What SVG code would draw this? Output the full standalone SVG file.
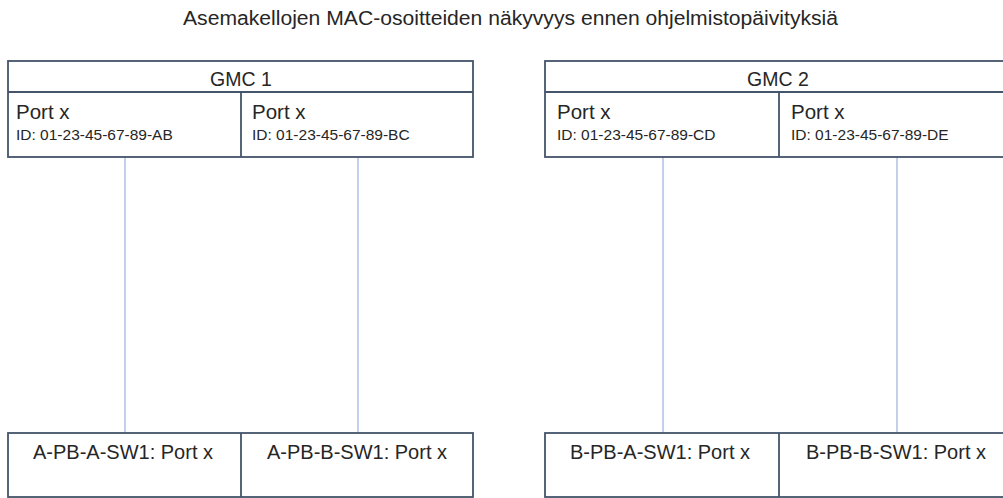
<svg xmlns="http://www.w3.org/2000/svg" width="1003" height="498" viewBox="0 0 1003 498">
  <style>
    text { font-family: "Liberation Sans", Arial, sans-serif; fill: #262626; }
    .box { fill: #ffffff; stroke: #44546a; stroke-width: 1.8; }
    .div { stroke: #44546a; stroke-width: 1.8; }
    .title { font-size: 20px; }
    .head { font-size: 19.5px; text-anchor: middle; }
    .port { font-size: 20.5px; }
    .id { font-size: 15.5px; }
    .sw { font-size: 20px; text-anchor: middle; }
    .link { stroke: #a4b6e0; stroke-width: 1.3; }
  </style>
  <rect width="1003" height="498" fill="#ffffff"/>

  <text class="title" x="510.5" y="25" text-anchor="middle" textLength="655" lengthAdjust="spacingAndGlyphs">Asemakellojen MAC-osoitteiden näkyvyys ennen ohjelmistopäivityksiä</text>

  <!-- connectors between GMC ports and switch ports -->
  <g id="connectors">
    <line class="link" x1="125" y1="157" x2="125" y2="433"/>
    <line class="link" x1="358" y1="157" x2="358" y2="433"/>
    <line class="link" x1="663" y1="157" x2="663" y2="433"/>
    <line class="link" x1="897" y1="157" x2="897" y2="433"/>
  </g>

  <g id="gmc1">
    <rect class="box" x="8" y="61" width="465" height="96"/>
    <line class="div" x1="8" y1="92" x2="473" y2="92"/>
    <line class="div" x1="241" y1="92" x2="241" y2="157"/>
    <text class="head" x="241" y="86">GMC 1</text>
    <text class="port" x="16" y="118.5">Port x</text>
    <text class="id" x="16" y="140">ID: 01-23-45-67-89-AB</text>
    <text class="port" x="252" y="118.5">Port x</text>
    <text class="id" x="252" y="140">ID: 01-23-45-67-89-BC</text>
  </g>

  <g id="gmc2">
    <rect class="box" x="545" y="61" width="467" height="96"/>
    <line class="div" x1="545" y1="92" x2="1012" y2="92"/>
    <line class="div" x1="779" y1="92" x2="779" y2="157"/>
    <text class="head" x="778" y="86">GMC 2</text>
    <text class="port" x="557" y="118.5">Port x</text>
    <text class="id" x="557" y="140">ID: 01-23-45-67-89-CD</text>
    <text class="port" x="791" y="118.5">Port x</text>
    <text class="id" x="791" y="140">ID: 01-23-45-67-89-DE</text>
  </g>

  <g id="switch-a">
    <rect class="box" x="8" y="433" width="465" height="64"/>
    <line class="div" x1="241" y1="433" x2="241" y2="497"/>
    <text class="sw" x="123" y="459">A-PB-A-SW1: Port x</text>
    <text class="sw" x="357" y="459">A-PB-B-SW1: Port x</text>
  </g>

  <g id="switch-b">
    <rect class="box" x="545" y="433" width="467" height="64"/>
    <line class="div" x1="779" y1="433" x2="779" y2="497"/>
    <text class="sw" x="660" y="459">B-PB-A-SW1: Port x</text>
    <text class="sw" x="896" y="459">B-PB-B-SW1: Port x</text>
  </g>
</svg>
